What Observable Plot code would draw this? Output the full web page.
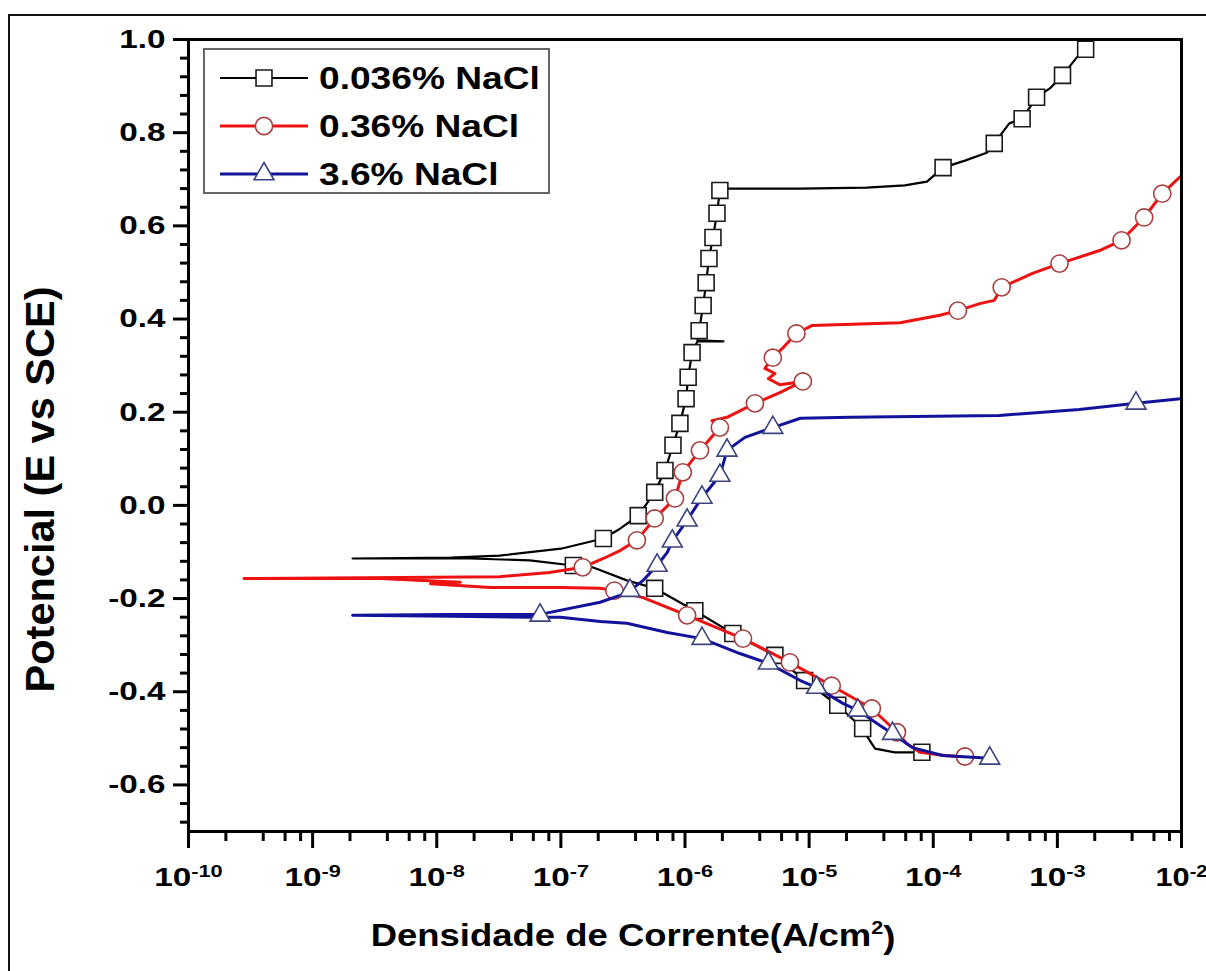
<!DOCTYPE html>
<html>
<head>
<meta charset="utf-8">
<script src="https://cdn.jsdelivr.net/npm/d3@7"></script>
<script src="https://cdn.jsdelivr.net/npm/@observablehq/plot@0.6"></script>
<style>
  html, body { margin: 0; padding: 0; background: #fff; }
  #wrap { position: relative; width: 1206px; height: 971px; overflow: hidden; font-family: "Liberation Sans", Arial, sans-serif; }
  #border { position: absolute; left: 8px; top: 14px; width: 1300px; height: 1000px; border-left: 2px solid #111; border-top: 2px solid #111; }
  #chart { position: absolute; left: 0; top: 0; }
  #legend { position: absolute; left: 203px; top: 48px; width: 343px; height: 142px; border: 2px solid #666; background: #fff; }
  #legend .row { position: absolute; left: 0; height: 40px; width: 343px; }
  #legend svg { position: absolute; left: 13px; top: 0; }
  #legend span { position: absolute; left: 114px; top: 0; line-height: 40px; font-size: 32px; font-weight: bold; color: #000; white-space: nowrap; transform: scaleX(1.16); transform-origin: 0 50%; }
</style>
</head>
<body>
<div id="wrap">
  <div id="border"></div>
  <div id="chart"></div>
  <div id="legend"></div>
</div>
<script>
// ---- data: [current density (A/cm2), potential (V vs SCE)] ----
const seriesNames = ["0.036% NaCl", "0.36% NaCl", "3.6% NaCl"];
const seriesColors = ["#000000", "#ee1111", "#12129a"];
const markerStrokes = ["#1a1a1a", "#a84040", "#3c4480"];
const markerSymbols = ["square", "circle", "triangle"];

const curve036 = [
  [8.1e-5,-0.530],[4.9e-5,-0.530],[3.4e-5,-0.522],[2.9e-5,-0.494],[2.7e-5,-0.479],[1.7e-5,-0.429],
  [9.2e-6,-0.376],[5.3e-6,-0.322],[2.43e-6,-0.275],[1.2e-6,-0.226],[5.7e-7,-0.178],[3.4e-7,-0.161],
  [1.8e-7,-0.133],[1.26e-7,-0.129],[5.6e-8,-0.118],[1.86e-8,-0.114],[5.1e-9,-0.114],[2.1e-9,-0.114],
  [1.3e-8,-0.112],[3.2e-8,-0.108],[1.0e-7,-0.093],[2.2e-7,-0.071],[3.0e-7,-0.050],[4.2e-7,-0.022],
  [5.7e-7,0.028],[6.9e-7,0.075],[8.0e-7,0.129],[9.1e-7,0.176],[1.02e-6,0.229],[1.06e-6,0.275],
  [1.14e-6,0.328],[1.26e-6,0.352],[2.04e-6,0.352],[1.26e-6,0.354],[1.3e-6,0.375],[1.40e-6,0.429],
  [1.48e-6,0.478],[1.56e-6,0.530],[1.68e-6,0.575],[1.81e-6,0.627],[1.91e-6,0.676],[2.0e-6,0.680],
  [8.5e-6,0.680],[2.9e-5,0.682],[5.9e-5,0.687],[8.9e-5,0.695],[1.2e-4,0.725],[1.8e-4,0.740],
  [2.7e-4,0.757],[3.1e-4,0.777],[4.1e-4,0.820],[5.2e-4,0.830],[6.3e-4,0.863],[6.8e-4,0.876],
  [8.7e-4,0.895],[1.1e-3,0.923],[1.43e-3,0.961],[1.69e-3,0.979],[1.89e-3,0.998]
];
const marks036 = [
  [8.1e-5,-0.530],[2.7e-5,-0.479],[1.7e-5,-0.429],[9.2e-6,-0.376],[5.3e-6,-0.322],[2.43e-6,-0.275],
  [1.2e-6,-0.226],[5.7e-7,-0.178],[1.26e-7,-0.129],
  [2.2e-7,-0.071],[4.2e-7,-0.022],[5.7e-7,0.028],[6.9e-7,0.075],[8.0e-7,0.129],[9.1e-7,0.176],
  [1.02e-6,0.229],[1.06e-6,0.275],[1.14e-6,0.328],[1.3e-6,0.375],[1.40e-6,0.429],[1.48e-6,0.478],
  [1.56e-6,0.530],[1.68e-6,0.575],[1.81e-6,0.627],[1.91e-6,0.676],[1.2e-4,0.725],[3.1e-4,0.777],
  [5.2e-4,0.830],[6.8e-4,0.876],[1.1e-3,0.923],[1.69e-3,0.979]
];

const curve036b = [
  [1.97e-4,-0.541],[1.24e-4,-0.537],[7.8e-5,-0.530],[6.1e-5,-0.511],[5.1e-5,-0.487],[3.2e-5,-0.436],
  [1.52e-5,-0.387],[7.0e-6,-0.337],[2.93e-6,-0.286],[1.04e-6,-0.236],[4.6e-7,-0.198],[2.7e-7,-0.183],
  [2.07e-7,-0.178],[9.9e-8,-0.176],[2.7e-8,-0.176],[8.9e-9,-0.168],[1.55e-8,-0.165],[3.5e-9,-0.157],
  [2.8e-10,-0.157],[5.1e-9,-0.155],[3.2e-8,-0.153],[8.1e-8,-0.144],[1.5e-7,-0.133],[2.2e-7,-0.114],
  [3.0e-7,-0.097],[4.1e-7,-0.075],[5.7e-7,-0.028],[8.3e-7,0.015],[9.6e-7,0.071],[1.32e-6,0.118],
  [1.91e-6,0.167],[1.65e-6,0.182],[2.18e-6,0.189],[3.66e-6,0.219],[5.8e-6,0.242],[8.9e-6,0.266],
  [5.8e-6,0.259],[4.7e-6,0.272],[5.3e-6,0.283],[4.4e-6,0.294],[5.1e-6,0.317],[6.4e-6,0.343],
  [7.9e-6,0.369],[1.05e-5,0.386],[5.4e-5,0.392],[1.13e-4,0.408],[1.58e-4,0.418],[2.37e-4,0.433],
  [3.1e-4,0.440],[3.56e-4,0.468],[6.3e-4,0.498],[1.04e-3,0.519],[2.19e-3,0.547],[3.29e-3,0.569],
  [5.0e-3,0.618],[7.0e-3,0.669],[9.8e-3,0.706]
];
const marks036b = [
  [1.8e-4,-0.539],[5.1e-5,-0.487],[3.2e-5,-0.436],[1.52e-5,-0.387],[7.0e-6,-0.337],[2.93e-6,-0.286],
  [1.04e-6,-0.236],[2.7e-7,-0.183],
  [1.5e-7,-0.133],[4.1e-7,-0.075],[5.7e-7,-0.028],[8.3e-7,0.015],[9.6e-7,0.071],[1.32e-6,0.118],
  [1.91e-6,0.167],[3.66e-6,0.219],[8.9e-6,0.266],[5.1e-6,0.317],[7.9e-6,0.369],[1.58e-4,0.418],
  [3.56e-4,0.468],[1.04e-3,0.519],[3.29e-3,0.569],[5.0e-3,0.618],[7.0e-3,0.669]
];

const curve36 = [
  [2.85e-4,-0.543],[2.24e-4,-0.541],[1.19e-4,-0.537],[6.8e-5,-0.520],[4.7e-5,-0.490],[3.7e-5,-0.472],
  [2.47e-5,-0.440],[1.87e-5,-0.425],[1.15e-5,-0.391],[8.5e-6,-0.376],[4.7e-6,-0.339],[2.77e-6,-0.318],
  [1.37e-6,-0.286],[7.2e-7,-0.273],[3.4e-7,-0.253],[2.08e-7,-0.249],[9.9e-8,-0.240],[6.0e-8,-0.240],
  [1.3e-8,-0.238],[2.1e-9,-0.236],[1.3e-8,-0.234],[6.8e-8,-0.234],[2.07e-7,-0.208],[3.0e-7,-0.193],
  [3.6e-7,-0.183],[4.6e-7,-0.161],[5.96e-7,-0.129],[7.2e-7,-0.101],[7.9e-7,-0.077],[1.04e-6,-0.032],
  [1.37e-6,0.017],[1.91e-6,0.064],[2.18e-6,0.118],[3.04e-6,0.146],[5.1e-6,0.167],[8.5e-6,0.187],
  [2.14e-5,0.189],[3.4e-4,0.193],[1.5e-3,0.206],[4.3e-3,0.219],[9.8e-3,0.229]
];
const marks36 = [
  [2.85e-4,-0.543],[4.7e-5,-0.490],[2.47e-5,-0.440],[1.15e-5,-0.391],[4.7e-6,-0.339],[1.37e-6,-0.286],
  [6.8e-8,-0.236],[3.6e-7,-0.183],[5.96e-7,-0.129],[7.9e-7,-0.077],[1.04e-6,-0.032],[1.37e-6,0.017],
  [1.91e-6,0.064],[2.18e-6,0.118],[5.1e-6,0.167],[4.3e-3,0.219]
];

const yMajorTicks = [-0.6, -0.4, -0.2, 0, 0.2, 0.4, 0.6, 0.8, 1.0];
const yMinorTicks = [-0.68,-0.64,-0.56,-0.52,-0.48,-0.44,-0.36,-0.32,-0.28,-0.24,-0.16,-0.12,-0.08,-0.04,
  0.04,0.08,0.12,0.16,0.24,0.28,0.32,0.36,0.44,0.48,0.52,0.56,0.64,0.68,0.72,0.76,0.84,0.88,0.92,0.96];
const xMajorExponents = [-10,-9,-8,-7,-6,-5,-4,-3,-2];
const xMinorMultipliers = [2, 4, 6, 8];
const xTitle = "Densidade de Corrente(A/cm2)";
const yTitle = "Potencial (E vs SCE)";

// ---- build ----
const curves = [curve036, curve036b, curve36];
const markerSets = [marks036, marks036b, marks36];
const xMajor = xMajorExponents.map(e => Math.pow(10, e));
const xMinor = xMajorExponents.slice(0, -1).flatMap(e => xMinorMultipliers.map(m => m * Math.pow(10, e)));
const markerR = [9, 8.6, 7.4];
const lineW = [2.2, 3, 3];

const seriesMarks = [];
curves.forEach((c, i) => {
  seriesMarks.push(Plot.line(c, {x: d => d[0], y: d => d[1], stroke: seriesColors[i], strokeWidth: lineW[i], curve: "linear"}));
  seriesMarks.push(Plot.dot(markerSets[i], {x: d => d[0], y: d => d[1], symbol: markerSymbols[i], r: markerR[i],
    fill: "white", stroke: markerStrokes[i], strokeWidth: 1.6}));
});

const chart = Plot.plot({
  width: 1206,
  height: 971,
  marginLeft: 188,
  marginRight: 25,
  marginTop: 39,
  marginBottom: 140,
  x: {type: "log", domain: [1e-10, 1e-2]},
  y: {domain: [-0.7, 1.0]},
  style: {fontFamily: "'Liberation Sans', Arial, sans-serif", fontWeight: "bold", fontSize: "26px", background: "transparent", color: "#000"},
  marks: [
    Plot.axisY({ticks: yMinorTicks, tickSize: 8, tickFormat: () => "", label: null, strokeWidth: 3}),
    Plot.axisY({ticks: yMajorTicks, tickSize: 15, tickPadding: 8, tickFormat: d => d.toFixed(1), label: null, strokeWidth: 3, fontSize: 26, fontWeight: "bold"}),
    Plot.axisX({ticks: xMinor, tickSize: 10, tickFormat: () => "", label: null, strokeWidth: 3}),
    Plot.axisX({ticks: xMajor, tickSize: 17, tickPadding: 19, tickFormat: d => "10^" + Math.round(Math.log10(d)), label: null, strokeWidth: 3, fontSize: 26, fontWeight: "bold"}),
    ...seriesMarks,
    Plot.frame({stroke: "#000", strokeWidth: 3}),
    Plot.text([xTitle], {frameAnchor: "bottom", textAnchor: "middle", dx: -52, dy: 114, fontSize: 32, fontWeight: "bold", text: d => d}),
    Plot.text([yTitle], {frameAnchor: "left", textAnchor: "middle", dx: -148, dy: 54, rotate: -90, fontSize: 41.5, fontWeight: "bold", text: d => d})
  ]
});
document.getElementById("chart").appendChild(chart);

// horizontal stretch of the text to match the reference's proportions
function stretch(t, s) {
  const tr = t.getAttribute("transform");
  if (tr) t.setAttribute("transform", tr + ` scale(${s},1)`);
  else {
    const x = t.getAttribute("x") || 0, y = t.getAttribute("y") || 0;
    t.removeAttribute("x"); t.removeAttribute("y");
    t.setAttribute("transform", `translate(${x},${y}) scale(${s},1)`);
  }
}

// superscripts for tick labels and the title
const SVGNS = "http://www.w3.org/2000/svg";
chart.querySelectorAll("text").forEach(t => {
  const s = t.textContent;
  if (/^10\^-?\d+$/.test(s)) {
    const e = s.slice(3);
    t.textContent = "10";
    const ts = document.createElementNS(SVGNS, "tspan");
    ts.setAttribute("dy", "-0.55em");
    ts.setAttribute("font-size", "17");
    ts.textContent = e;
    t.appendChild(ts);
    stretch(t, e === "-2" ? 1.18 : 1.28);
  } else if (/^-?\d\.\d$/.test(s)) {
    stretch(t, 1.28);
  } else if (s === xTitle) {
    t.textContent = "Densidade de Corrente(A/cm";
    const ts = document.createElementNS(SVGNS, "tspan");
    ts.setAttribute("dy", "-0.6em");
    ts.setAttribute("font-size", "19");
    ts.textContent = "2";
    const ts2 = document.createElementNS(SVGNS, "tspan");
    ts2.setAttribute("dy", "0.42em");
    ts2.textContent = ")";
    t.appendChild(ts); t.appendChild(ts2);
    stretch(t, 1.14);
  }
});

// legend
const legend = document.getElementById("legend");
const rowTops = [8, 56, 104];
seriesNames.forEach((name, i) => {
  const row = document.createElement("div");
  row.className = "row";
  row.style.top = rowTops[i] + "px";
  const sym = d3.symbol().type(i === 0 ? d3.symbolSquare : i === 1 ? d3.symbolCircle : d3.symbolTriangle)
    .size(Math.PI * markerR[i] * markerR[i])();
  row.innerHTML = `<svg width="92" height="40"><line x1="2" x2="90" y1="20" y2="20" stroke="${seriesColors[i]}" stroke-width="${lineW[i]}"/>` +
    `<path transform="translate(46,20)" d="${sym}" fill="white" stroke="${markerStrokes[i]}" stroke-width="1.6"/></svg>` +
    `<span>${name}</span>`;
  legend.appendChild(row);
});
</script>
</body>
</html>
